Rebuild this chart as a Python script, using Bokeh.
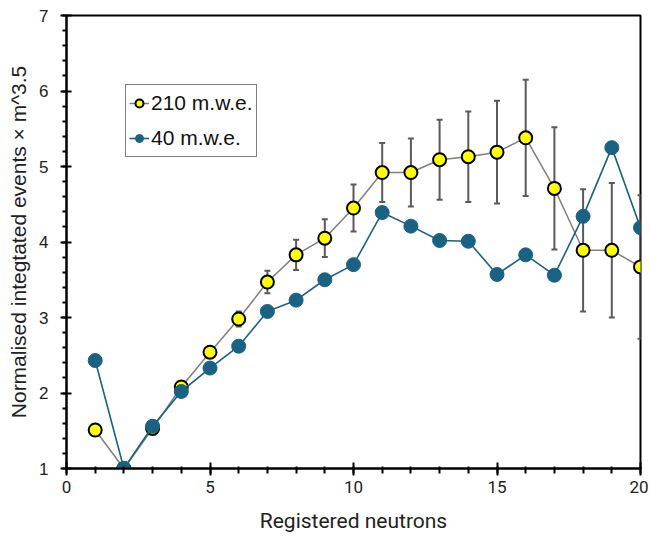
import numpy as np
from bokeh.plotting import figure
from bokeh.models import (ColumnDataSource, Whisker, TeeHead, FixedTicker, Legend, LegendItem, Range1d)
from bokeh.embed import file_html
from bokeh.resources import INLINE

neutrons = list(range(1, 21))
mwe210 = [1.51, 1.00, 1.53, 2.08, 2.54, 2.98, 3.47, 3.83, 4.05, 4.45,
          4.92, 4.92, 5.09, 5.13, 5.19, 5.38, 4.71, 3.89, 3.89, 3.67]
mwe210_err = [0.0, 0.0, 0.01, 0.02, 0.05, 0.10, 0.15, 0.20, 0.25, 0.31,
              0.39, 0.45, 0.53, 0.60, 0.68, 0.77, 0.81, 0.81, 0.89, 0.95]
mwe40 = [2.43, 1.00, 1.56, 2.02, 2.33, 2.62, 3.08, 3.23, 3.50, 3.70,
         4.39, 4.21, 4.02, 4.01, 3.57, 3.83, 3.56, 4.34, 5.25, 4.19]
x_ticks = [0, 5, 10, 15, 20]
y_ticks = [1, 2, 3, 4, 5, 6, 7]

src210 = ColumnDataSource(dict(
    x=neutrons, y=mwe210,
    upper=[v + e for v, e in zip(mwe210, mwe210_err)],
    lower=[v - e for v, e in zip(mwe210, mwe210_err)]))
src40 = ColumnDataSource(dict(x=neutrons, y=mwe40))

p = figure(width=648, height=536, output_backend="svg", toolbar_location=None,
           x_range=Range1d(0, 20), y_range=Range1d(1, 7),
           min_border_left=66, min_border_right=8, min_border_top=15, min_border_bottom=68)
p.grid.visible = False
p.outline_line_color = "black"
p.outline_line_width = 2

GREY = "#7f7f7f"
BLUE = "#1a6283"
ERR = "#5a5a5a"

whisk = Whisker(base="x", upper="upper", lower="lower", source=src210,
                line_color=ERR, line_width=2, level="underlay",
                upper_head=TeeHead(size=6, line_color=ERR, line_width=2),
                lower_head=TeeHead(size=6, line_color=ERR, line_width=2))
p.add_layout(whisk)

l210 = p.line("x", "y", source=src210, line_color=GREY, line_width=1.5)
s210 = p.scatter("x", "y", source=src210, size=13, fill_color="#ffff00",
                 line_color="black", line_width=2)
l40 = p.line("x", "y", source=src40, line_color=BLUE, line_width=1.6)
s40 = p.scatter("x", "y", source=src40, size=14, fill_color=BLUE, line_color=BLUE)

p.xaxis.ticker = FixedTicker(ticks=x_ticks, minor_ticks=list(range(0, 21)))
p.yaxis.ticker = FixedTicker(ticks=y_ticks, minor_ticks=list(np.round(np.arange(1, 7.01, 0.2), 2)))

for ax in (p.xaxis[0], p.yaxis[0]):
    ax.axis_line_width = 2
    ax.axis_line_color = "black"
    ax.major_tick_line_width = 2
    ax.minor_tick_line_width = 2
    ax.major_tick_line_color = "black"
    ax.minor_tick_line_color = "black"
    ax.major_label_text_color = "#222222"
    ax.axis_label_text_color = "#222222"
    ax.axis_label_text_font_style = "normal"

xa = p.xaxis[0]
xa.major_tick_in = 6
xa.major_tick_out = 7
xa.minor_tick_in = 2
xa.minor_tick_out = 5
xa.major_label_standoff = 5
xa.major_label_text_font = "Roboto"
xa.major_label_text_font_size = "17px"
xa.axis_label = "Registered neutrons"
xa.axis_label_text_font = "Roboto"
xa.axis_label_text_font_size = "21px"
xa.axis_label_standoff = 13

ya = p.yaxis[0]
ya.major_tick_in = 5
ya.major_tick_out = 6
ya.minor_tick_in = 0
ya.minor_tick_out = 4
ya.major_label_standoff = 12
ya.major_label_text_font = "Liberation Sans"
ya.major_label_text_font_size = "17px"
ya.axis_label = "Normalised integtated events \u00d7 m^3.5"
ya.axis_label_text_font = "Liberation Sans"
ya.axis_label_text_font_size = "21px"
ya.axis_label_standoff = 6

legend = Legend(items=[LegendItem(label="210 m.w.e.", renderers=[l210, s210]),
                       LegendItem(label="40 m.w.e.", renderers=[l40, s40])],
                location=(59, 311), border_line_color="black", border_line_width=1.5,
                padding=3, spacing=5, margin=0, glyph_width=20, glyph_height=30,
                label_height=30, label_standoff=2,
                label_text_font="Liberation Sans", label_text_font_size="21px",
                label_text_color="#111111", background_fill_alpha=1)
p.add_layout(legend)

open("out.html", "w").write(file_html(p, INLINE))
